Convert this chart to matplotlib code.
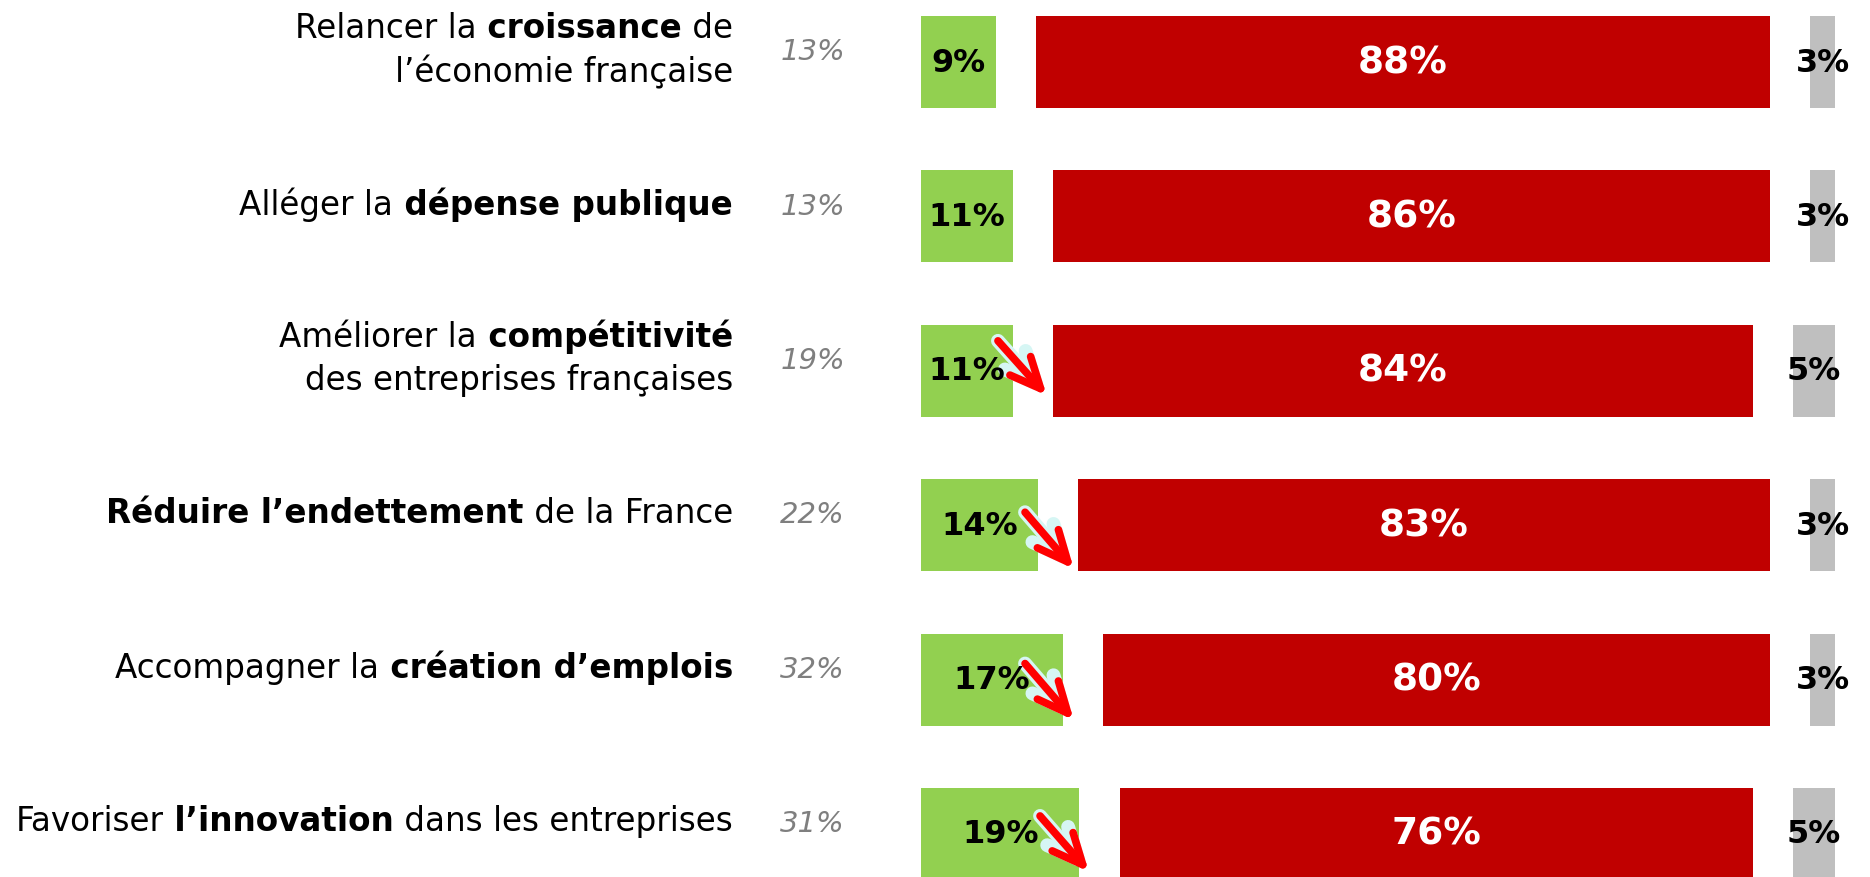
import matplotlib.pyplot as plt

# données
themes = [
    [[("Relancer la", False), (" croissance", True), (" de", False)],
     [("l\u2019économie française", False)]],
    [[("Alléger la", False), (" dépense publique", True)]],
    [[("Améliorer la", False), (" compétitivité", True)],
     [("des entreprises françaises", False)]],
    [[("Réduire l\u2019endettement", True), (" de la France", False)]],
    [[("Accompagner la", False), (" création d\u2019emplois", True)]],
    [[("Favoriser", False), (" l\u2019innovation", True), (" dans les entreprises", False)]],
]
prev = ["13%", "13%", "19%", "22%", "32%", "31%"]
vert = [9, 11, 11, 14, 17, 19]
rouge = [88, 86, 84, 83, 80, 76]
gris = [3, 3, 5, 3, 3, 5]
fleches = [2, 3, 4, 5]   # lignes avec une flèche rouge

C_VERT = "#92D050"
C_ROUGE = "#C00000"
C_GRIS = "#BFBFBF"

# mise en page (pixels -> unités)
PX = 8.33          # pixels par point de %
X0 = 921           # début des barres vertes
ROW = 154.4        # écart entre lignes
Y0 = 63            # centre de la première ligne
W, H = 1870, 878
gap = 40.5 / PX

fig = plt.figure(figsize=(W / 100, H / 100), dpi=100)
ax = fig.add_axes([0, 0, 1, 1])
ax.set_xlim(-X0 / PX, (W - X0) / PX)
ax.set_ylim((H - Y0) / ROW, -Y0 / ROW)
ax.axis("off")

y = list(range(len(vert)))
h = 92 / ROW
left_r = [g + gap for g in vert]
left_g = [g + gap + r + gap for g, r in zip(vert, rouge)]
ax.barh(y, vert, height=h, color=C_VERT)
ax.barh(y, rouge, left=left_r, height=h, color=C_ROUGE)
ax.barh(y, gris, left=left_g, height=h, color=C_GRIS)

for i in y:
    ax.text(vert[i] / 2, i, f"{vert[i]}%", ha="center", va="center",
            fontsize=23, fontweight="bold", color="black", zorder=4)
    ax.text(left_r[i] + rouge[i] / 2, i, f"{rouge[i]}%", ha="center", va="center",
            fontsize=27, fontweight="bold", color="white")
    ax.text(left_g[i] + gris[i] / 2, i, f"{gris[i]}%", ha="center", va="center",
            fontsize=23, fontweight="bold", color="black")
    ax.text((845 - X0) / PX, i - 0.07, prev[i], ha="right", va="center",
            fontsize=21, style="italic", color="#7F7F7F")


def ligne(xr, yc, pieces):
    # on écrit de droite à gauche, chaque morceau collé au précédent
    txt, bold = pieces[-1]
    t = ax.text(xr, yc, txt, ha="right", va="center", fontsize=23.5,
                fontweight="bold" if bold else "normal")
    for txt, bold in reversed(pieces[:-1]):
        t = ax.annotate(txt, xy=(0, 0), xycoords=t, ha="right", va="bottom",
                        fontsize=23.5, fontweight="bold" if bold else "normal")


xl = (733 - X0) / PX
for i, lignes in enumerate(themes):
    yc = i - 13 / ROW
    if len(lignes) == 1:
        ligne(xl, yc, lignes[0])
    else:
        ligne(xl, yc - 22 / ROW, lignes[0])
        ligne(xl, yc + 22 / ROW, lignes[1])

# flèches rouges (départ / arrivée, en décalage de la ligne)
pos_fleches = [(9.24, -0.194, 15.1, 0.16), (12.49, -0.084, 18.35, 0.283),
               (12.49, -0.104, 18.35, 0.263), (14.29, -0.117, 20.15, 0.244)]
style = "->,head_length=1.1,head_width=0.5"
for r, (xa, ya, xb, yb) in zip(fleches, pos_fleches):
    ax.annotate("", xy=(xb, r + yb), xytext=(xa, r + ya), zorder=3,
                arrowprops=dict(arrowstyle=style, color="#D6F6F4", lw=10,
                                mutation_scale=20, shrinkA=0, shrinkB=0,
                                capstyle="round", joinstyle="round"))
    ax.annotate("", xy=(xb, r + yb), xytext=(xa, r + ya), zorder=5,
                arrowprops=dict(arrowstyle=style, color="#FF0000", lw=5.5,
                                mutation_scale=20, shrinkA=0, shrinkB=0))

fig.savefig("out.png", dpi=100)
